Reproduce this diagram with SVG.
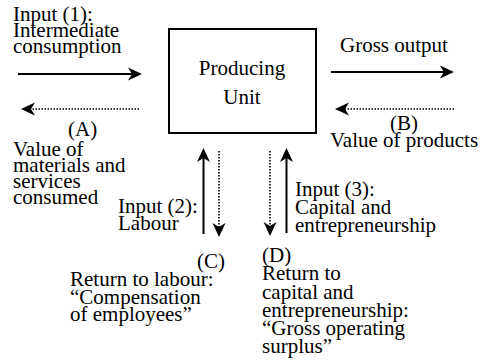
<svg xmlns="http://www.w3.org/2000/svg" width="491" height="361" viewBox="0 0 491 361">
  <style>
    text { font-size: 21px; fill: #000; }
    .mid { text-anchor: middle; }
    .flow { fill: none; stroke: #000; stroke-width: 2; }
    .value { fill: none; stroke: #000; stroke-width: 1.6; stroke-dasharray: 1.5 1.5; }
    .box { fill: #fff; stroke: #000; stroke-width: 2; }
  </style>
  <defs>
    <marker id="head" viewBox="0 -7 14 14" refX="4" refY="0" markerWidth="14" markerHeight="14" markerUnits="userSpaceOnUse" orient="auto">
      <path d="M0,-6.5 L14,0 L0,6.5 L4,0 Z" fill="#000"/>
    </marker>
  </defs>

  <rect width="491" height="361" fill="#fff"/>

  <g font-family="'Liberation Serif', 'DejaVu Serif', serif">
  <!-- central node -->
  <g id="producing-unit">
    <rect class="box" x="169" y="29" width="147" height="104"/>
    <text class="mid" x="242" y="75">Producing</text>
    <text class="mid" x="242" y="104">Unit</text>
  </g>

  <!-- flows in (solid) and payments back (dotted) -->
  <g id="connectors">
    <line class="flow" x1="18" y1="74" x2="132" y2="74" marker-end="url(#head)"/>
    <line class="value" x1="139" y1="109" x2="31" y2="109" marker-end="url(#head)"/>
    <line class="flow" x1="331" y1="72" x2="444" y2="72" marker-end="url(#head)"/>
    <line class="value" x1="454" y1="109" x2="345" y2="109" marker-end="url(#head)"/>
    <line class="flow" x1="203.5" y1="234" x2="203.5" y2="158" marker-end="url(#head)"/>
    <line class="value" x1="219" y1="151" x2="219" y2="227" marker-end="url(#head)"/>
    <line class="value" x1="270" y1="151" x2="270" y2="226" marker-end="url(#head)"/>
    <line class="flow" x1="286.5" y1="233" x2="286.5" y2="158" marker-end="url(#head)"/>
  </g>

  <g id="input-intermediate">
    <text x="13" y="20.5">Input (1):</text>
    <text x="13" y="36.8">Intermediate</text>
    <text x="13" y="53.2">consumption</text>
  </g>

  <g id="value-materials">
    <text x="68" y="136">(A)</text>
    <text x="13" y="155.5">Value of</text>
    <text x="13" y="171.6">materials and</text>
    <text x="13" y="187.7">services</text>
    <text x="13" y="203.5">consumed</text>
  </g>

  <g id="gross-output">
    <text x="340" y="52">Gross output</text>
  </g>

  <g id="value-products">
    <text x="390" y="130">(B)</text>
    <text x="330" y="146.5">Value of products</text>
  </g>

  <g id="input-labour">
    <text x="118" y="213">Input (2):</text>
    <text x="118" y="230">Labour</text>
  </g>

  <g id="return-labour">
    <text x="197" y="268">(C)</text>
    <text x="70" y="286">Return to labour:</text>
    <text x="70" y="303.5">“Compensation</text>
    <text x="70" y="320.5">of employees”</text>
  </g>

  <g id="input-capital">
    <text x="295" y="196">Input (3):</text>
    <text x="295" y="214">Capital and</text>
    <text x="295" y="232">entrepreneurship</text>
  </g>

  <g id="return-capital">
    <text x="262" y="262">(D)</text>
    <text x="262" y="280">Return to</text>
    <text x="262" y="298.5">capital and</text>
    <text x="262" y="316.5">entrepreneurship:</text>
    <text x="262" y="335">“Gross operating</text>
    <text x="262" y="353">surplus”</text>
  </g>
  </g>
</svg>
